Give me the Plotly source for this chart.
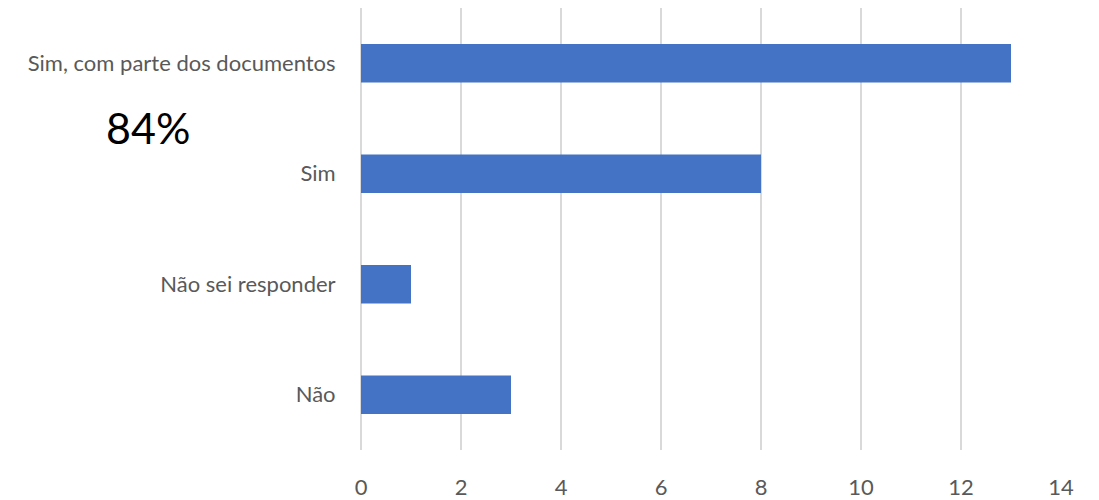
import plotly.graph_objects as go

categories = ["Sim, com parte dos documentos", "Sim", "Não sei responder", "Não"]
values = [13, 8, 1, 3]
x_ticks = [0, 2, 4, 6, 8, 10, 12, 14]
annotation_text = "84%"

FONT = "Lato, Carlito, Calibri, sans-serif"
W, H = 1091, 492
L, R, T, B = 353, 38, 0, 48

fig = go.Figure(go.Bar(
    x=values,
    y=categories,
    orientation="h",
    marker=dict(color="#4472C4", line=dict(width=0)),
    width=0.35,
))

plot_w = W - L - R
plot_h = H - T - B

fig.update_layout(
    width=W, height=H,
    margin=dict(l=L, r=R, t=T, b=B),
    paper_bgcolor="white", plot_bgcolor="white",
    font=dict(family=FONT, color="#595959", size=22),
    showlegend=False,
    xaxis=dict(
        range=[0, 14], tickvals=x_ticks,
        showgrid=True, gridcolor="#d9d9d9", gridwidth=1.5,
        zeroline=True, zerolinecolor="#d9d9d9", zerolinewidth=1.5,
        showline=False,
        ticks="outside", ticklen=18, tickcolor="rgba(0,0,0,0)",
        tickfont=dict(size=22, color="#595959"),
    ),
    yaxis=dict(
        categoryorder="array", categoryarray=categories[::-1],
        showgrid=False, zeroline=False, showline=False,
        ticks="outside", ticklen=20, tickcolor="rgba(0,0,0,0)",
        tickfont=dict(size=22, color="#595959"),
    ),
    annotations=[dict(
        text=annotation_text, xref="paper", yref="paper",
        x=(140 - L) / plot_w, y=(H - B - 120) / plot_h,
        xanchor="center", yanchor="middle",
        showarrow=False, font=dict(size=43, color="black", family=FONT),
    )],
)

fig.write_html("out.html")
